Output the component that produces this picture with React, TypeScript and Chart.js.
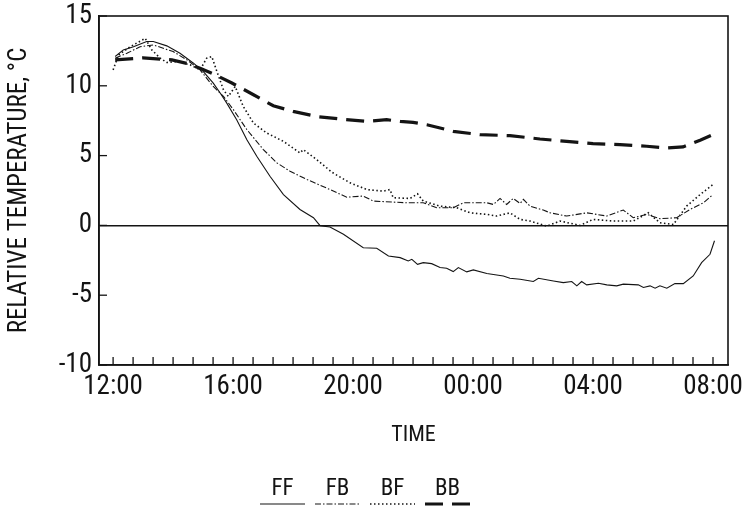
import React, { useEffect, useRef } from "react";
import { Chart, registerables } from "chart.js";

Chart.register(...registerables);

// x = hours elapsed since 12:00 (12:00 -> 0, 08:00 next day -> 20)
const FF_POINTS: [number, number][] = [
  [0.07, 12.1], [0.34, 12.57], [0.68, 12.8], [1.12, 13.17], [1.34, 13.17],
  [1.79, 12.86], [2.23, 12.33], [2.68, 11.62], [3.01, 11.02], [3.34, 10.19],
  [3.57, 9.48], [3.79, 8.76], [4.12, 7.57], [4.46, 6.14], [4.79, 4.95],
  [5.23, 3.52], [5.68, 2.21], [6.23, 1.14], [6.68, 0.55], [6.9, -0.02],
  [7.23, -0.12], [7.68, -0.64], [8.34, -1.6], [8.79, -1.64], [9.18, -2.19],
  [9.57, -2.31], [9.84, -2.55], [9.96, -2.43], [10.15, -2.79], [10.34, -2.67],
  [10.62, -2.74], [10.9, -3.02], [11.12, -3.07], [11.34, -3.31], [11.51, -3.02],
  [11.79, -3.33], [12.01, -3.19], [12.46, -3.45], [13.01, -3.62], [13.23, -3.79],
  [13.57, -3.86], [14.01, -4.02], [14.18, -3.79], [14.68, -3.98], [15.01, -4.1],
  [15.29, -4.02], [15.46, -4.33], [15.62, -4.02], [15.79, -4.26], [16.18, -4.14],
  [16.46, -4.26], [16.79, -4.33], [17.01, -4.21], [17.51, -4.26], [17.68, -4.45],
  [17.9, -4.33], [18.07, -4.5], [18.23, -4.33], [18.46, -4.5], [18.73, -4.17],
  [19.01, -4.17], [19.34, -3.62], [19.62, -2.67], [19.9, -2.07], [20.05, -1.1],
];

const FB_POINTS: [number, number][] = [
  [0.07, 11.98], [0.46, 12.33], [0.9, 12.8], [1.34, 12.93], [2.0, 12.45],
  [2.46, 11.86], [2.9, 11.14], [3.34, 9.95], [3.68, 9.24], [4.01, 8.29],
  [4.46, 6.86], [5.01, 5.43], [5.46, 4.48], [5.9, 3.88], [6.46, 3.29],
  [7.23, 2.57], [7.79, 2.02], [8.34, 2.1], [8.68, 1.74], [9.79, 1.62],
  [10.34, 1.62], [10.79, 1.26], [11.34, 1.26], [11.68, 1.62], [12.46, 1.62],
  [12.68, 1.5], [12.9, 1.93], [13.12, 1.5], [13.34, 1.93], [13.57, 1.57],
  [13.68, 1.86], [13.9, 1.38], [14.34, 1.1], [14.57, 0.9], [15.12, 0.67],
  [15.79, 0.9], [16.46, 0.67], [17.01, 1.1], [17.34, 0.55], [17.79, 0.79],
  [18.23, 0.48], [18.79, 0.55], [19.23, 1.14], [19.68, 1.62], [20.0, 2.21],
];

const BF_POINTS: [number, number][] = [
  [0.0, 11.14], [0.18, 12.21], [0.57, 12.8], [1.07, 13.4], [1.29, 12.57],
  [1.57, 11.98], [1.79, 11.67], [2.12, 11.74], [2.57, 11.5], [2.9, 11.14],
  [3.12, 11.98], [3.29, 12.1], [3.46, 11.02], [3.68, 9.71], [3.84, 9.24],
  [4.07, 9.95], [4.34, 8.52], [4.68, 7.33], [5.12, 6.62], [5.68, 6.02],
  [6.23, 5.19], [6.34, 5.43], [6.79, 4.71], [7.3, 3.8], [7.9, 3.05],
  [8.46, 2.57], [9.0, 2.45], [9.23, 2.57], [9.34, 1.98], [9.9, 1.93],
  [10.15, 2.26], [10.34, 1.74], [10.9, 1.38], [11.46, 1.26], [11.9, 0.9],
  [12.46, 0.79], [12.79, 0.67], [13.23, 0.9], [13.57, 0.43], [13.9, 0.31],
  [14.46, -0.05], [14.9, 0.31], [15.57, 0.0], [16.0, 0.43], [16.68, 0.31],
  [17.34, 0.31], [17.84, 0.9], [18.23, 0.19], [18.68, 0.07], [19.12, 1.38],
  [19.57, 2.21], [20.0, 2.93],
];

const BB_POINTS: [number, number][] = [
  [0.07, 11.86], [1.0, 12.0], [1.96, 11.86], [2.46, 11.6], [2.9, 11.26],
  [3.34, 10.86], [3.96, 10.2], [4.68, 9.36], [5.34, 8.57], [6.0, 8.17],
  [6.79, 7.8], [7.57, 7.62], [8.46, 7.45], [9.12, 7.57], [9.57, 7.45],
  [10.0, 7.38], [10.46, 7.21], [11.34, 6.74], [12.23, 6.5], [13.23, 6.43],
  [14.23, 6.19], [15.12, 6.02], [16.0, 5.86], [16.9, 5.79], [17.79, 5.67],
  [18.46, 5.55], [19.0, 5.62], [19.57, 6.1], [20.0, 6.5],
];

const SERIES_NAMES = ["FF", "FB", "BF", "BB"];
const SERIES_POINTS = [FF_POINTS, FB_POINTS, BF_POINTS, BB_POINTS];
const START_HOUR = 12;
const TIME_LABEL_EVERY_HOURS = 4;
const Y_LABELS = [15, 10, 5, 0, -5, -10];

const FONT = "'Roboto Condensed', 'DejaVu Sans Condensed', sans-serif";
const INK = "#141414";

const STYLES = [
  { borderWidth: 1.1, borderDash: [] as number[] },
  { borderWidth: 1.1, borderDash: [6, 2, 1.5, 2] },
  { borderWidth: 1.6, borderDash: [1.5, 2.5] },
  { borderWidth: 3.2, borderDash: [18, 9] },
];

const framePlugin = {
  id: "frameAndTicks",
  afterDatasetsDraw(chart: any) {
    const { ctx, chartArea: a, scales } = chart;
    ctx.save();
    ctx.strokeStyle = INK;
    ctx.lineWidth = 1.6;
    ctx.strokeRect(a.left, a.top, a.right - a.left, a.bottom - a.top);
    ctx.lineWidth = 1.3;
    const len = 8;
    scales.x.ticks.forEach((t: any) => {
      const px = scales.x.getPixelForValue(t.value);
      ctx.beginPath();
      ctx.moveTo(px, a.bottom);
      ctx.lineTo(px, a.bottom - len);
      ctx.stroke();
    });
    scales.y.ticks.forEach((t: any) => {
      const py = scales.y.getPixelForValue(t.value);
      ctx.beginPath();
      ctx.moveTo(a.left, py);
      ctx.lineTo(a.left + len, py);
      ctx.stroke();
    });
    ctx.restore();
  },
};

const legendPlugin = {
  id: "bottomLegend",
  afterDraw(chart: any) {
    const { ctx } = chart;
    ctx.save();
    ctx.font = `23px ${FONT}`;
    ctx.textAlign = "center";
    ctx.textBaseline = "middle";
    chart.data.datasets.forEach((ds: any, i: number) => {
      const x0 = 260 + i * 55;
      const x1 = x0 + 45;
      const cx = (x0 + x1) / 2;
      ctx.fillStyle = INK;
      ctx.fillText(ds.label, cx, 489);
      ctx.strokeStyle = INK;
      ctx.lineWidth = ds.borderWidth;
      ctx.setLineDash(ds.borderDash || []);
      ctx.beginPath();
      ctx.moveTo(x0, 504);
      ctx.lineTo(x1, 504);
      ctx.stroke();
    });
    ctx.restore();
  },
};

export default function App() {
  const ref = useRef<HTMLCanvasElement>(null);
  useEffect(() => {
    document.body.style.margin = "0";
    const canvas = ref.current!;
    const chart = new Chart(canvas, {
      type: "line",
      data: {
        datasets: SERIES_NAMES.map((name, i) => ({
          label: name,
          data: SERIES_POINTS[i].map(([x, y]) => ({ x, y })),
          borderColor: INK,
          backgroundColor: INK,
          borderWidth: STYLES[i].borderWidth,
          borderDash: STYLES[i].borderDash,
          pointRadius: 0,
          tension: 0,
          fill: false,
        })),
      },
      options: {
        animation: false,
        responsive: false,
        maintainAspectRatio: false,
        layout: { padding: { left: 0, right: 15, top: 16, bottom: 55 } },
        plugins: { legend: { display: false }, tooltip: { enabled: false } },
        scales: {
          x: {
            type: "linear",
            min: -0.47,
            max: 20.5,
            afterFit: (s: any) => {
              s.height = 88;
              s.paddingLeft = 0;
              s.paddingRight = 0;
            },
            border: { display: true, color: INK, width: 1.6 },
            grid: { display: false, drawTicks: false },
            ticks: {
              stepSize: 2 / 3,
              includeBounds: false,
              autoSkip: false,
              maxRotation: 0,
              padding: 6,
              color: INK,
              font: { family: FONT, size: 27 },
              callback: (v: any) => {
                const n = Number(v);
                const r = n / TIME_LABEL_EVERY_HOURS;
                if (Math.abs(r - Math.round(r)) > 0.01) return "";
                const h = (START_HOUR + Math.round(n)) % 24;
                return `${String(h).padStart(2, "0")}:00`;
              },
            },
            title: {
              display: true,
              text: "TIME",
              color: INK,
              font: { family: FONT, size: 22 },
              padding: { top: 0, bottom: 4 },
            },
          },
          y: {
            min: -10,
            max: 15,
            afterFit: (s: any) => {
              s.width = 99;
              s.paddingTop = 0;
              s.paddingBottom = 0;
            },
            border: { display: true, color: INK, width: 1.6 },
            grid: {
              drawTicks: false,
              color: (c: any) => (c.tick && c.tick.value === 0 ? INK : "rgba(0,0,0,0)"),
              lineWidth: 1.4,
            },
            ticks: {
              stepSize: 2.5,
              padding: 7,
              color: INK,
              font: { family: FONT, size: 27 },
              callback: (v: any) => (Y_LABELS.includes(Number(v)) ? String(v) : ""),
            },
            title: {
              display: true,
              text: "RELATIVE TEMPERATURE, °C",
              color: INK,
              font: { family: FONT, size: 25 },
              padding: { top: 5, bottom: 0 },
            },
          },
        },
      },
      plugins: [framePlugin, legendPlugin],
    });
    return () => chart.destroy();
  }, []);
  return (
    <div style={{ width: 743, height: 508, background: "#fff" }}>
      <canvas ref={ref} width={743} height={508} style={{ display: "block" }} />
    </div>
  );
}
